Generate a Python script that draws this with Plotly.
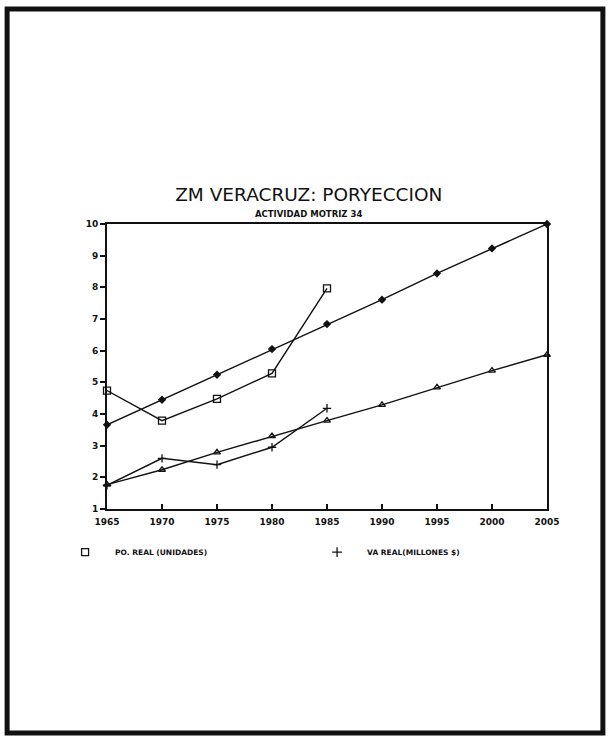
import plotly.graph_objects as go

# años observados y proyectados
years_real = [1965, 1970, 1975, 1980, 1985]
years_proj = [1965, 1970, 1975, 1980, 1985, 1990, 1995, 2000, 2005]

po_real = [4.74, 3.79, 4.48, 5.28, 7.97]
va_real = [1.75, 2.60, 2.40, 2.95, 4.18]
po_proy = [3.66, 4.45, 5.24, 6.05, 6.84, 7.61, 8.44, 9.23, 10.0]
va_proy = [1.77, 2.24, 2.79, 3.30, 3.79, 4.29, 4.84, 5.37, 5.87]

x_ticks = [1965, 1970, 1975, 1980, 1985, 1990, 1995, 2000, 2005]
y_ticks = list(range(1, 11))

BLACK = "#111111"
FONT = "DejaVu Sans"

fig = go.Figure()


def _line(x, y, symbol, size):
    fig.add_trace(go.Scatter(
        x=x, y=y, mode="lines+markers", showlegend=False,
        line=dict(color=BLACK, width=1.4),
        marker=dict(symbol=symbol, size=size, color=BLACK,
                    line=dict(color=BLACK, width=1.3)),
        cliponaxis=False))


_line(years_proj, po_proy, "diamond", 5)
_line(years_proj, va_proy, "triangle-up-open", 6)
_line(years_real, po_real, "square-open", 7)
_line(years_real, va_real, "cross-thin-open", 6)

# entradas de leyenda solo con el símbolo
for name, symbol in [("PO. REAL (UNIDADES)", "square-open"), ("VA REAL(MILLONES $)", "cross-thin-open")]:
    fig.add_trace(go.Scatter(
        x=[None], y=[None], mode="markers", name=name,
        marker=dict(symbol=symbol, size=7, color=BLACK, line=dict(color=BLACK, width=1.3))))

axis_common = dict(showline=True, linecolor=BLACK, linewidth=2, mirror=True,
                   showgrid=False, zeroline=False, ticks="outside", ticklen=5,
                   tickcolor=BLACK, tickwidth=1.5,
                   tickfont=dict(family=FONT, size=9, color=BLACK, weight="bold"))

fig.update_xaxes(range=[1965, 2005], tickvals=x_ticks, ticklabelstandoff=3,
                 **{**axis_common, "ticks": "inside"})
fig.update_yaxes(range=[1, 10], tickvals=y_ticks, **axis_common)

fig.update_layout(
    width=609, height=736,
    margin=dict(l=107, r=62, t=224, b=227),
    paper_bgcolor="white", plot_bgcolor="white",
    title=dict(text="ZM VERACRUZ: PORYECCION", x=0.507, xanchor="center",
               y=1 - 195 / 736, yanchor="middle",
               font=dict(family=FONT, size=18.5, color=BLACK)),
    legend=dict(orientation="h", x=-0.118, xanchor="left", y=-0.151, yanchor="middle",
                itemwidth=50, entrywidthmode="pixels", entrywidth=187,
                font=dict(family=FONT, size=7.5, color=BLACK, weight="bold")),
    showlegend=True,
)

fig.add_annotation(text="ACTIVIDAD MOTRIZ 34", xref="paper", yref="paper", x=0.457, y=1,
                   yanchor="bottom", yshift=3, showarrow=False,
                   font=dict(family=FONT, size=8.5, color=BLACK, weight="bold"))

# marco de la página
fig.add_shape(type="rect", xref="paper", yref="paper", x0=-0.227, x1=1.127, y0=-0.786, y1=1.754,
              line=dict(color=BLACK, width=5))

# sin margen del body para que la figura ocupe toda la ventana
fig.write_html("out.html", config={"displayModeBar": False},
               post_script="document.body.style.margin='0';")
